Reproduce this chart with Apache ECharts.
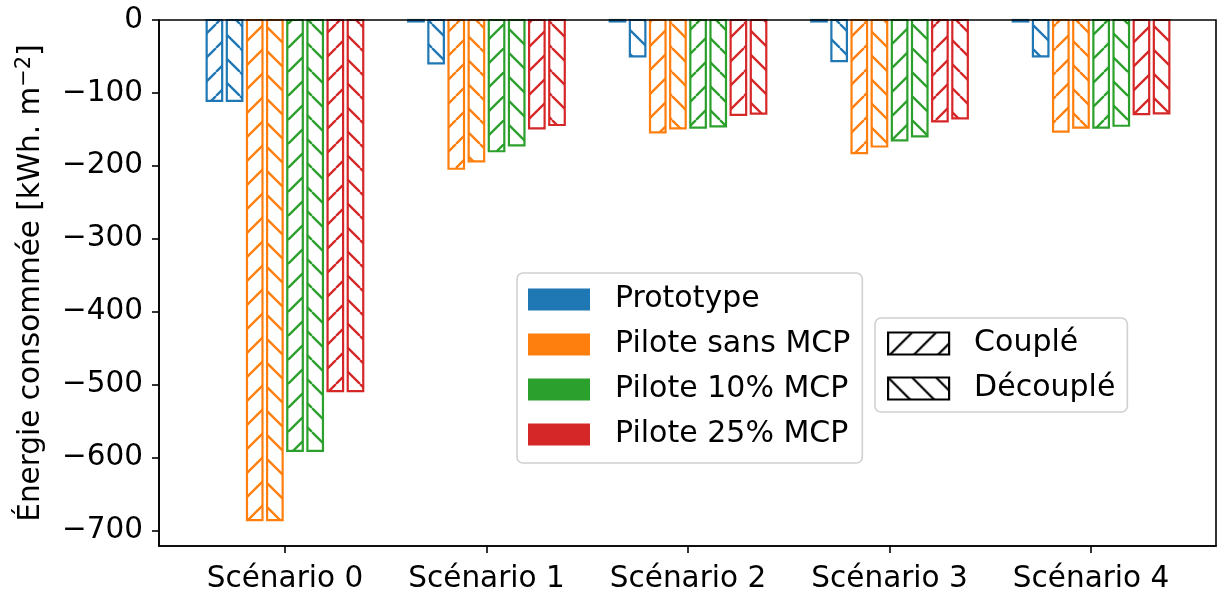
<!DOCTYPE html>
<html><head><meta charset="utf-8">
<script src="https://cdn.jsdelivr.net/npm/echarts@6/dist/echarts.min.js"></script>
<style>html,body{margin:0;padding:0;background:#fff}#c{width:1217px;height:594px}</style>
</head><body><div id="c"></div>
<script>
// ---- data ----
const categories = ['Scénario 0', 'Scénario 1', 'Scénario 2', 'Scénario 3', 'Scénario 4'];
const seriesNames = ['Prototype', 'Pilote sans MCP', 'Pilote 10% MCP', 'Pilote 25% MCP'];
const modeNames = ['Couplé', 'Découplé'];
const prototypeCouple    = [-111, -2, -2, -2, -2];
const prototypeDecouple  = [-111, -59.5, -50, -56.5, -50];
const piloteSansCouple   = [-686, -204, -154, -182.5, -153];
const piloteSansDecouple = [-686, -194, -148.5, -173.5, -147.5];
const pilote10Couple     = [-591, -180, -147.5, -165, -147.5];
const pilote10Decouple   = [-591, -172, -146, -159.5, -145];
const pilote25Couple     = [-509, -148.5, -130, -139, -129];
const pilote25Decouple   = [-509, -144, -128.5, -135, -128];
const yTicks = [0, -100, -200, -300, -400, -500, -600, -700];
const xTicks = [0, 1, 2, 3, 4];

// ---- styling ----
const COLORS = ['#1f77b4', '#ff7f0e', '#2ca02c', '#d62728'];
const FONT = 'DejaVu Sans';
const FS = 29.5;
const LFS = 30;
const valueSets = [
  [prototypeCouple, prototypeDecouple],
  [piloteSansCouple, piloteSansDecouple],
  [pilote10Couple, pilote10Decouple],
  [pilote25Couple, pilote25Decouple]
];

function hatchCanvas(color, dir, lw) {
  const s = 24;
  const c = document.createElement('canvas');
  c.width = s; c.height = s;
  const g = c.getContext('2d');
  g.fillStyle = '#fff';
  g.fillRect(0, 0, s, s);
  g.strokeStyle = color; g.lineWidth = lw;
  g.beginPath();
  for (const o of [-s, 0, s]) {
    if (dir > 0) { g.moveTo(o, s); g.lineTo(o + s, 0); }
    else { g.moveTo(o, 0); g.lineTo(o + s, s); }
  }
  g.stroke();
  return c;
}
function pattern(color, dir, lw) {
  return { image: hatchCanvas(color, dir, lw), repeat: 'repeat' };
}

const BAR_W = 0.077;
const series = [];
for (let k = 0; k < 4; k++) {
  for (let m = 0; m < 2; m++) {
    const offset = -0.35 + (2 * k + m) * 0.1;
    const fill = pattern(COLORS[k], m === 0 ? 1 : -1, 2.3);
    const color = COLORS[k];
    series.push({
      type: 'custom',
      name: seriesNames[k],
      itemStyle: { color: color },
      data: valueSets[k][m].map((v, i) => [xTicks[i], v]),
      encode: { x: 0, y: 1 },
      renderItem: function (params, api) {
        const x = api.value(0), v = api.value(1);
        const p0 = api.coord([x + offset - BAR_W / 2, 0]);
        const p1 = api.coord([x + offset + BAR_W / 2, v]);
        return {
          type: 'rect',
          shape: {
            x: Math.min(p0[0], p1[0]), y: Math.min(p0[1], p1[1]),
            width: Math.abs(p1[0] - p0[0]), height: Math.abs(p1[1] - p0[1])
          },
          style: { fill: fill, stroke: color, lineWidth: 2.2 }
        };
      }
    });
  }
}
// dummy series for the hatch legend
modeNames.forEach(function (n) {
  series.push({ type: 'custom', name: n, data: [], renderItem: function () { return null; } });
});

const legendText = { fontFamily: FONT, fontSize: LFS, color: '#000', padding: [0, 0, 0, 20] };

const option = {
  animation: false,
  backgroundColor: '#fff',
  grid: { left: 159, right: 1, top: 20, bottom: 48, show: true, borderColor: '#000', borderWidth: 1.6, z: 10 },
  xAxis: {
    type: 'value', min: -0.625, max: 4.62,
    splitLine: { show: false },
    axisLine: { show: true, onZero: false, lineStyle: { color: '#000', width: 1.6 } },
    axisTick: { show: true, customValues: xTicks, length: 7, lineStyle: { color: '#000', width: 1.6 } },
    axisLabel: {
      customValues: xTicks, margin: 18,
      formatter: function (v) { return categories[Math.round(v)]; },
      fontFamily: FONT, fontSize: FS, color: '#000'
    }
  },
  yAxis: {
    type: 'value', min: -721.35, max: 0,
    name: '{n|Énergie consommée [kWh. m}{s|−2}{n|]}',
    nameLocation: 'middle', nameGap: 111, nameRotate: 90,
    nameTextStyle: {
      fontFamily: FONT, fontSize: FS, color: '#000',
      rich: {
        n: { fontFamily: FONT, fontSize: FS, color: '#000', lineHeight: 34, verticalAlign: 'middle' },
        s: { fontFamily: FONT, fontSize: 21, color: '#000', lineHeight: 14, verticalAlign: 'top' }
      }
    },
    splitLine: { show: false },
    axisLine: { show: true, onZero: false, lineStyle: { color: '#000', width: 1.6 } },
    axisTick: { show: true, customValues: yTicks, length: 7, lineStyle: { color: '#000', width: 1.6 } },
    axisLabel: {
      customValues: yTicks, margin: 16,
      formatter: function (v) { return v < 0 ? '\u2212' + Math.abs(v) : String(v); },
      fontFamily: FONT, fontSize: FS, color: '#000'
    }
  },
  legend: [
    {
      orient: 'vertical', left: 517, top: 273,
      padding: [11.5, 12, 13.5, 11], itemGap: 15, itemWidth: 62, itemHeight: 22,
      borderColor: '#d0d0d0', borderWidth: 1.6, borderRadius: 6, backgroundColor: 'rgba(255,255,255,0.8)',
      selectedMode: false,
      textStyle: legendText,
      data: seriesNames.map(function (n, k) {
        return { name: n, icon: 'rect', itemStyle: { color: COLORS[k], borderWidth: 0 } };
      })
    },
    {
      orient: 'vertical', left: 875, top: 318,
      padding: [10.5, 12, 8.5, 12], itemGap: 15, itemWidth: 61, itemHeight: 22,
      borderColor: '#d0d0d0', borderWidth: 1.6, borderRadius: 6, backgroundColor: 'rgba(255,255,255,0.8)',
      selectedMode: false,
      textStyle: legendText,
      data: modeNames.map(function (n, m) {
        return { name: n, icon: 'rect', itemStyle: { color: pattern('#000', m === 0 ? 1 : -1, 2.2), borderColor: '#000', borderWidth: 2.2 } };
      })
    }
  ],
  series: series
};
const chart = echarts.init(document.getElementById('c'), null, { renderer: 'canvas' });
chart.setOption(option);
</script>
</body></html>
